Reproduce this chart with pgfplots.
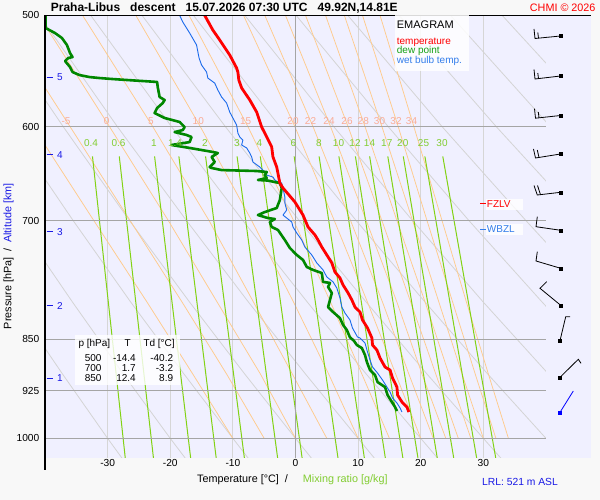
\documentclass[border=0pt]{standalone}
\usepackage{fontspec}
\setmainfont{Liberation Sans}
\usepackage{pgfplots}
\pgfplotsset{compat=1.18}
\definecolor{pagebg}{RGB}{248,248,248}
\definecolor{plotbg}{RGB}{240,240,255}
\definecolor{isogrey}{RGB}{214,214,214}
\definecolor{pgrey}{RGB}{165,165,165}
\definecolor{drygrey}{RGB}{212,212,212}
\definecolor{moistor}{RGB}{255,203,140}
\definecolor{mixgreen}{RGB}{130,210,20}
\definecolor{mixlab}{RGB}{130,205,50}
\definecolor{moistlab}{RGB}{250,172,150}
\definecolor{tred}{RGB}{255,0,0}
\definecolor{tdgreen}{RGB}{0,135,0}
\definecolor{wbblue}{RGB}{25,105,235}
\definecolor{altblue}{RGB}{25,25,230}
\definecolor{leggreen}{RGB}{20,160,20}
\definecolor{legblue}{RGB}{50,125,235}
\pgfplotsset{
  dry/.style={draw=drygrey, line width=0.8pt, no markers},
  moist/.style={draw=moistor, line width=0.75pt, no markers},
  mix/.style={draw=mixgreen, line width=1pt, no markers},
}
\begin{document}
\begin{tikzpicture}[x=1pt,y=1pt]
\path[use as bounding box, fill=pagebg] (0,0) rectangle (600,500);
\fill[plotbg] (45,42.3) rectangle (591,484.7);
\begin{axis}[
  at={(45pt,42.3pt)}, anchor=south west,
  width=501pt, height=442.4pt, scale only axis,
  xmin=-40, xmax=40, ymode=log, ymin=500, ymax=1032.3, y dir=reverse,
  axis line style={draw=none}, tick style={draw=none}, major tick length=0pt,
  xtick={-30,-20,-10,0,10,20,30}, xticklabels={-30,-20,-10,0,10,20,30},
  ytick={500,600,700,850,925,1000}, yticklabels={500,600,700,850,925,1000},
  ticklabel style={font=\fontsize{10.2}{12}\selectfont, inner sep=0pt},
  xticklabel style={anchor=north, yshift=-1pt},
  yticklabel style={anchor=east, xshift=-5.5pt},
  clip=true,
]
% isotherms
\addplot[draw=isogrey, line width=0.9pt] coordinates {(-30,500)(-30,1040)};
\addplot[draw=isogrey, line width=0.9pt] coordinates {(-20,500)(-20,1040)};
\addplot[draw=isogrey, line width=0.9pt] coordinates {(-10,500)(-10,1040)};
\addplot[draw=isogrey, line width=0.9pt] coordinates {(10,500)(10,1040)};
\addplot[draw=isogrey, line width=0.9pt] coordinates {(20,500)(20,1040)};
\addplot[draw=isogrey, line width=0.9pt] coordinates {(30,500)(30,1040)};
% dry adiabats
\addplot[dry] coordinates {(-73.7,500)(-63.0,600)(-53.6,700)(-45.0,800)(-37.2,900)(-30,1000)(-27.7,1033)};
\addplot[dry] coordinates {(-65.5,500)(-54.4,600)(-44.5,700)(-35.6,800)(-27.5,900)(-20,1000)(-17.6,1033)};
\addplot[dry] coordinates {(-57.3,500)(-45.7,600)(-35.5,700)(-26.3,800)(-17.8,900)(-10,1000)(-7.55,1033)};
\addplot[dry] coordinates {(-49.1,500)(-37.1,600)(-26.5,700)(-16.9,800)(-8.1,900)(0,1000)(2.55,1033)};
\addplot[dry] coordinates {(-40.9,500)(-28.45,600)(-17.4,700)(-7.5,800)(1.6,900)(10,1000)(12.6,1033)};
\addplot[dry] coordinates {(-32.7,500)(-19.8,600)(-8.4,700)(1.9,800)(11.3,900)(20,1000)(22.7,1033)};
\addplot[dry] coordinates {(-24.5,500)(-11.2,600)(0.6,700)(11.3,800)(21.0,900)(30,1000)(32.8,1033)};
\addplot[dry] coordinates {(-16.3,500)(-2.5,600)(9.7,700)(20.7,800)(30.7,900)(40,1000)(42.9,1033)};
\addplot[dry] coordinates {(-8.1,500)(6.1,600)(18.7,700)(30.0,800)(40.4,900)};
\addplot[dry] coordinates {(0.1,500)(14.8,600)(27.7,700)(39.4,800)(50.1,900)};
\addplot[dry] coordinates {(8.35,500)(23.4,600)(36.8,700)(48.8,800)};
\addplot[dry] coordinates {(16.55,500)(32.05,600)(45.8,700)};
\addplot[dry] coordinates {(24.75,500)(40.7,600)};
\addplot[dry] coordinates {(33.0,500)(49.3,600)};
% moist adiabats
\addplot[moist] coordinates {(-10,1000)(-16.4,900)(-23.7,800)(-32.2,700)(-41.9,600)};
\addplot[moist] coordinates {(-5,1000)(-11.0,900)(-18.1,800)(-26.4,700)(-36.0,600)(-47.4,500)};
\addplot[moist] coordinates {(0,1000)(-5.6,900)(-12.5,800)(-20.3,700)(-29.7,600)(-41.0,500)};
\addplot[moist] coordinates {(5,1000)(-0.5,900)(-6.7,800)(-13.8,700)(-22.8,600)(-34.0,500)};
\addplot[moist] coordinates {(10,1000)(5.3,900)(-0.3,800)(-7.0,700)(-15.2,600)(-25.5,500)};
\addplot[moist] coordinates {(15,1000)(10.6,900)(5.6,800)(-0.3,700)(-7.6,600)(-17.0,500)};
\addplot[moist] coordinates {(20,1000)(16.0,900)(11.5,800)(6.2,700)(-0.1,600)(-8.3,500)};
\addplot[moist] coordinates {(22,1000)(18.1,900)(13.9,800)(8.8,700)(2.8,600)(-4.9,500)};
\addplot[moist] coordinates {(24,1000)(20.2,900)(16.2,800)(11.3,700)(5.6,600)(-1.6,500)};
\addplot[moist] coordinates {(26,1000)(22.4,900)(18.4,800)(13.8,700)(8.4,600)(1.6,500)};
\addplot[moist] coordinates {(28,1000)(24.5,900)(20.7,800)(16.2,700)(11.1,600)(4.8,500)};
\addplot[moist] coordinates {(30,1000)(26.6,900)(22.9,800)(18.7,700)(13.8,600)(7.8,500)};
\addplot[moist] coordinates {(32,1000)(28.7,900)(25.1,800)(21.0,700)(16.4,600)(10.7,500)};
\addplot[moist] coordinates {(34,1000)(30.8,900)(27.3,800)(23.4,700)(18.9,600)(13.5,500)};
% mixing ratio lines
\addplot[mix] coordinates {(-32.42,630)(-27.18,1033)};
\addplot[mix] coordinates {(-28.14,630)(-22.68,1033)};
\addplot[mix] coordinates {(-22.50,630)(-16.74,1033)};
\addplot[mix] coordinates {(-18.62,630)(-12.66,1033)};
\addplot[mix] coordinates {(-14.36,630)(-8.16,1033)};
\addplot[mix] coordinates {(-9.33,630)(-2.85,1033)};
\addplot[mix] coordinates {(-5.62,630)(1.06,1033)};
\addplot[mix] coordinates {(-0.21,630)(6.79,1033)};
\addplot[mix] coordinates {(3.77,630)(11.00,1033)};
\addplot[mix] coordinates {(6.93,630)(14.35,1033)};
\addplot[mix] coordinates {(9.57,630)(17.15,1033)};
\addplot[mix] coordinates {(11.84,630)(19.56,1033)};
\addplot[mix] coordinates {(14.74,630)(22.64,1033)};
\addplot[mix] coordinates {(17.21,630)(25.27,1033)};
\addplot[mix] coordinates {(20.66,630)(28.93,1033)};
\addplot[mix] coordinates {(23.52,630)(31.98,1033)};
% pressure lines and 0 isotherm
\addplot[draw=pgrey, line width=0.9pt] coordinates {(-40,600)(40,600)};
\addplot[draw=pgrey, line width=0.9pt] coordinates {(-40,700)(40,700)};
\addplot[draw=pgrey, line width=0.9pt] coordinates {(-40,850)(40,850)};
\addplot[draw=pgrey, line width=0.9pt] coordinates {(-40,925)(40,925)};
\addplot[draw=pgrey, line width=0.9pt] coordinates {(-40,1000)(40,1000)};
\addplot[draw=pgrey, line width=0.9pt] coordinates {(0,500)(0,1040)};
% wet bulb temperature
\addplot[draw=wbblue, line width=0.9pt, line join=round] coordinates {
(-18.5,500)(-18.0,505.5)(-16.9,514.7)(-15.8,524.9)(-15.4,536.2)(-15.0,542.4)(-14.2,548.7)(-14.0,554.1)
(-12.9,558.7)(-12.4,565.1)(-11.8,571.6)(-11.0,577.3)(-10.5,585.9)(-10.0,591.6)(-9.4,598.5)(-9.2,606.4)
(-8.9,610.3)(-8.4,613.4)(-8.6,618.4)(-7.8,621.4)(-7.3,626.6)(-7.0,630.6)(-6.8,635.9)(-5.7,641.1)
(-4.9,646.4)(-4.6,649.6)(-3.6,651.7)(-3.3,654.9)(-2.8,657.1)(-2.2,658.1)(-2.0,663.5)(-1.7,673.4)
(-1.7,680.1)(-1.4,687.9)(-2.0,693.6)(-1.4,697.0)(-0.6,701.5)(-0.4,707.3)(0.2,714.3)(1.0,722.6)
(1.5,730.9)(2.6,740.5)(3.4,750.3)(4.4,758.9)(5.0,767.7)(6.0,774.0)(6.6,781.7)(7.1,794.6)
(7.4,806.4)(7.9,814.4)(8.7,823.7)(9.1,834.6)(9.9,847.0)(10.3,848.4)(11.1,855.4)(11.5,868.1)
(11.9,879.6)(12.3,889.7)(13.1,898.5)(13.9,908.9)(14.6,919.4)(15.1,926.9)(15.5,936.0)(16.2,943.7)
(16.7,951.5)(17.0,957.8)};
% dew point
\addplot[draw=tdgreen, line width=2.6pt, line join=round] coordinates {
(-39.9,500)(-39.9,510.5)(-38.4,514.7)(-37.3,518.9)(-36.5,524.9)(-36.0,531.9)(-35.6,535.4)(-36.3,536.2)
(-36.8,538.9)(-36.0,544.2)(-35.6,548.7)(-34.5,551.4)(-32.9,553.2)(-31.3,554.1)(-29.3,555.0)(-26.9,555.9)
(-22.1,557.7)(-22.0,562.3)(-21.7,571.6)(-20.9,574.4)(-21.2,577.3)(-22.1,582.0)(-22.5,586.8)(-20.9,591.6)
(-18.5,595.5)(-17.7,600.4)(-18.0,603.4)(-19.3,605.4)(-17.4,608.3)(-16.6,610.3)(-16.9,615.4)(-19.8,618.4)
(-16.9,621.4)(-13.2,625.5)(-12.4,626.6)(-13.4,630.6)(-12.9,635.9)(-13.7,641.1)(-13.4,642.1)(-11.8,644.3)
(-6.2,645.3)(-4.6,646.4)(-4.9,649.6)(-4.6,652.8)(-6.0,654.9)(-4.4,655.5)(-3.3,657.1)(-2.5,658.1)
(-2.2,663.5)(-2.5,676.7)(-3.0,685.6)(-4.9,690.2)(-6.0,693.6)(-4.4,697.0)(-3.3,698.1)(-4.1,701.5)
(-3.8,707.3)(-2.8,710.8)(-1.7,722.6)(-1.4,726.1)(-0.9,732.1)(0.2,740.5)(1.2,746.6)(1.8,755.2)
(2.8,758.9)(4.2,762.7)(4.4,774.0)(5.5,775.3)(5.2,780.4)(5.8,788.1)(5.2,806.4)(6.0,813.0)
(7.1,821.1)(7.6,830.5)(8.2,837.4)(8.7,847.5)(9.3,852.0)(9.8,858.2)(10.6,862.5)(11.1,872.4)
(11.4,882.5)(11.9,894.1)(12.7,901.5)(13.1,911.9)(14.3,919.4)(14.7,931.5)(15.4,942.2)(15.9,950.0)
(16.2,956.2)};
% temperature
\addplot[draw=tred, line width=2.8pt, line join=round] coordinates {
(-14.5,500)(-13.2,512.2)(-12.1,520.6)(-10.5,533.6)(-9.4,545.1)(-9.2,548.7)(-9.05,555.9)(-8.6,563.2)
(-7.3,574.4)(-6.2,585.9)(-5.4,600.4)(-4.6,610.3)(-3.8,620.4)(-3.6,630.6)(-3.0,641.1)(-2.5,658.1)
(-2.0,663.5)(-0.1,678.9)(1.2,693.6)(2.0,707.3)(3.1,716.6)(3.6,722.6)(4.2,730.9)(5.0,740.5)
(5.8,750.3)(6.3,761.5)(7.1,769.0)(7.6,777.9)(8.4,788.1)(9.0,797.2)(9.5,806.4)(10.3,813.0)
(10.7,823.7)(11.5,834.6)(12.2,848.4)(12.3,858.2)(13.0,865.3)(13.5,876.7)(14.3,889.7)(15.1,894.1)
(15.5,905.9)(16.2,919.4)(16.3,931.5)(17.0,942.2)(17.8,950.0)(18.1,957.8)};
\end{axis}
% wind barbs (pixel axis)
\begin{axis}[
  at={(520pt,42.3pt)}, anchor=south west,
  width=71pt, height=442.4pt, scale only axis,
  xmin=520, xmax=591, ymin=15.3, ymax=457.7, y dir=reverse,
  hide axis, clip=false,
]
\addplot[black, line width=0.8pt] coordinates {(560.5,36)(535,38.5)(534,29)};
\addplot[black, line width=0.8pt] coordinates {(538.5,38.2)(537.8,32.5)};
\addplot[black, line width=0.8pt] coordinates {(560.5,76)(535,79)(534,69.5)};
\addplot[black, line width=0.8pt] coordinates {(538.5,78.6)(537.8,73)};
\addplot[black, line width=0.8pt] coordinates {(560.5,115.5)(535.5,118.2)(534.5,108.7)};
\addplot[black, line width=0.8pt] coordinates {(539,117.8)(538.3,112)};
\addplot[black, line width=0.8pt] coordinates {(560.5,154)(535.5,158)(533.5,149)};
\addplot[black, line width=0.8pt] coordinates {(539,157.5)(537.3,150)};
\addplot[black, line width=0.8pt] coordinates {(560.7,192.3)(537.3,195)(534,185.5)};
\addplot[black, line width=0.8pt] coordinates {(540.5,194.6)(537.5,185.5)};
\addplot[black, line width=0.8pt] coordinates {(560.7,230.3)(536,226.7)(537.3,216.7)};
\addplot[black, line width=0.8pt] coordinates {(560.7,268.3)(536,261)(537.3,251.7)};
\addplot[black, line width=0.8pt] coordinates {(560.7,305.3)(540,288.3)(546.7,281.7)};
\addplot[black, line width=0.8pt] coordinates {(560,340.7)(565.7,316.7)(570,316.7)};
\addplot[black, line width=0.8pt] coordinates {(560,377.3)(578.3,359.3)(581,363.3)};
\addplot[draw=blue, line width=0.8pt] coordinates {(560,412.3)(573.3,391)};
\addplot[only marks, mark=square*, mark size=1.5pt, black] coordinates {
(560.5,36)(560.5,76)(560.5,115.5)(560.5,154)(560.7,192.3)(560.7,230.3)(560.7,268.3)(560.7,305.3)(560,340.7)(560,377.3)};
\addplot[only marks, mark=square*, mark size=1.5pt, blue] coordinates {(560,412.3)};
\end{axis}
% frame
\draw[black, line width=1.5pt] (45,30) -- (45,484.7) -- (591,484.7);
% moist adiabat labels
\begin{scope}[every node/.style={font=\fontsize{10}{11}\selectfont, text=moistlab, inner sep=0pt}]
\node at (66,379.3) {-5};
\node at (106.7,379.3) {0};
\node at (150.8,379.3) {5};
\node at (198.3,379.3) {10};
\node at (245.7,379.3) {15};
\node at (293,379.3) {20};
\node at (310.5,379.3) {22};
\node at (329,379.3) {24};
\node at (347,379.3) {26};
\node at (363.3,379.3) {28};
\node at (379.5,379.3) {30};
\node at (396,379.3) {32};
\node at (411.5,379.3) {34};
\end{scope}
% mixing ratio labels
\begin{scope}[every node/.style={font=\fontsize{10}{11}\selectfont, text=mixlab, inner sep=0pt}]
\node at (91,357.3) {0.4};
\node at (118.5,357.3) {0.6};
\node at (154,357.3) {1};
\node at (175,357.3) {1.4};
\node at (205,357.3) {2};
\node at (236.8,357.3) {3};
\node at (259.5,357.3) {4};
\node at (293.5,357.3) {6};
\node at (318.8,357.3) {8};
\node at (338.5,357.3) {10};
\node at (355,357.3) {12};
\node at (369.5,357.3) {14};
\node at (386.8,357.3) {17};
\node at (402.8,357.3) {20};
\node at (423.5,357.3) {25};
\node at (442,357.3) {30};
\end{scope}
% altitude ticks
\begin{scope}[every node/.style={font=\fontsize{10}{11}\selectfont, text=altblue, inner sep=0pt, anchor=west}]
\foreach \yy/\lab in {422.7/5,345/4,268.3/3,194/2,121.7/1}{
  \draw[altblue, line width=1pt] (46.7,\yy) -- (52.7,\yy);
  \node at (57,\yy) {\lab};
}
\end{scope}
% FZLV / WBZL
\fill[white, fill opacity=0.8] (486,289.9) rectangle (523.3,301.3);
\draw[tred, line width=1pt] (480,296) -- (485.5,296);
\node[anchor=west, inner sep=0pt, text=tred, font=\fontsize{10}{11}\selectfont] at (486.7,296) {FZLV};
\fill[white, fill opacity=0.8] (486,265) rectangle (523.3,276);
\draw[legblue, line width=1pt] (480,270.7) -- (485.5,270.7);
\node[anchor=west, inner sep=0pt, text=legblue, font=\fontsize{10}{11}\selectfont] at (486.7,270.7) {WBZL};
% legend box
\fill[white, fill opacity=0.85] (395,429.3) rectangle (469,484.7);
\node[anchor=base west, inner sep=0pt, font=\fontsize{11}{12}\selectfont] at (396.7,471.1) {EMAGRAM};
\node[anchor=base west, inner sep=0pt, text=tred, font=\fontsize{10}{11}\selectfont] at (396.7,455.3) {temperature};
\node[anchor=base west, inner sep=0pt, text=leggreen, font=\fontsize{10}{11}\selectfont] at (396.7,446.2) {dew point};
\node[anchor=base west, inner sep=0pt, text=legblue, font=\fontsize{10}{11}\selectfont] at (396.7,436.5) {wet bulb temp.};
% data table
\fill[white, fill opacity=0.8] (75,115) rectangle (180,165);
\begin{scope}[every node/.style={font=\fontsize{10}{11}\selectfont, inner sep=0pt}]
\node[anchor=base west] at (78.3,153.1) {p [hPa]};
\node[anchor=base] at (127.7,153.1) {T};
\node[anchor=base west] at (143.3,153.1) {Td [°C]};
\node[anchor=base east] at (101.7,138.1) {500};
\node[anchor=base east] at (136,138.1) {-14.4};
\node[anchor=base east] at (173.3,138.1) {-40.2};
\node[anchor=base east] at (101.7,128.1) {700};
\node[anchor=base east] at (136,128.1) {1.7};
\node[anchor=base east] at (173.3,128.1) {-3.2};
\node[anchor=base east] at (101.7,118.1) {850};
\node[anchor=base east] at (136,118.1) {12.4};
\node[anchor=base east] at (173.3,118.1) {8.9};
\end{scope}
% titles and labels
\node[anchor=base west, inner sep=0pt, font=\bfseries\fontsize{12}{14}\selectfont] at (50.7,488.3) {Praha-Libus\ \ \ descent\ \ \ 15.07.2026 07:30 UTC\ \ \ 49.92N,14.81E};
\node[anchor=base east, inner sep=0pt, text=tred, font=\fontsize{10.8}{12}\selectfont] at (595.7,488.8) {CHMI © 2026};
\node[rotate=90, anchor=base east, inner sep=0pt, font=\fontsize{10.8}{12}\selectfont] at (11.5,317) {Pressure [hPa]\ \ /\ \ \textcolor{altblue}{Altitude [km]}};
\node[anchor=base west, inner sep=0pt, font=\fontsize{10.8}{12}\selectfont] at (197,17.1) {Temperature [°C]\ \ /};
\node[anchor=base west, inner sep=0pt, text=mixlab, font=\fontsize{10.8}{12}\selectfont] at (302.7,17.1) {Mixing ratio [g/kg]};
\node[anchor=base west, inner sep=0pt, text=altblue, font=\fontsize{10.3}{12}\selectfont] at (482,14.3) {LRL: 521 m ASL};
\end{tikzpicture}
\end{document}
